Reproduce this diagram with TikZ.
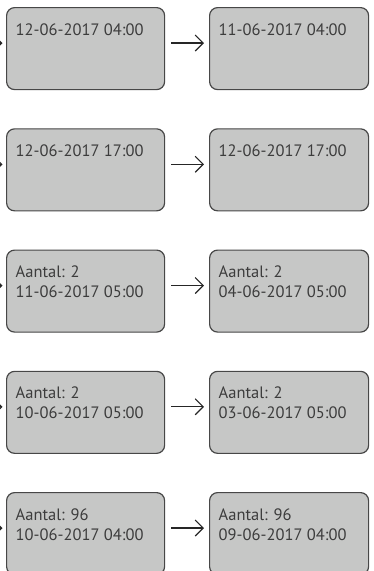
\documentclass[tikz,border=0pt]{standalone}
\usepackage{fontspec}
\setmainfont{PT Sans}
\usetikzlibrary{arrows.meta,calc}
\definecolor{boxfill}{HTML}{C6C7C6}
\definecolor{boxline}{HTML}{474747}
\definecolor{txtcol}{HTML}{3C3C3C}
\begin{document}
\begin{tikzpicture}[x=1pt,y=1pt,
  box/.style={draw=boxline,fill=boxfill,line width=1.2pt,rounded corners=8pt,
    minimum width=158pt,minimum height=82pt,inner sep=0pt,anchor=north west},
  txt/.style={anchor=base west,inner sep=0pt,text=txtcol,font=\fontsize{16.5}{20}\selectfont},
  arr/.style={draw=black!85,line width=1.1pt,-{Straight Barb[length=8pt,width=16pt,line width=1.1pt]}}]
\useasboundingbox (0,0) rectangle (373,-571);
\clip (0,0) rectangle (373,-571);
% rows
\foreach \i/\ya/\yb/\za/\zb in {1/{12-06-2017 04:00}/{}/{11-06-2017 04:00}/{},
  2/{12-06-2017 17:00}/{}/{12-06-2017 17:00}/{},
  3/{Aantal: 2}/{11-06-2017 05:00}/{Aantal: 2}/{04-06-2017 05:00},
  4/{Aantal: 2}/{10-06-2017 05:00}/{Aantal: 2}/{03-06-2017 05:00},
  5/{Aantal: 96}/{10-06-2017 04:00}/{Aantal: 96}/{09-06-2017 04:00}}{
  \pgfmathsetmacro{\top}{-7-121.25*(\i-1)}
  \node[box] (l\i) at (6,\top) {};
  \node[box,minimum width=159pt] (r\i) at (209,\top) {};
  \node[txt] (la\i) at ($(l\i.north west)+(9.5,-28)$) {\ya};
  \node[txt] (lb\i) at ($(l\i.north west)+(9.5,-48)$) {\yb};
  \node[txt] (ra\i) at ($(r\i.north west)+(9.5,-28)$) {\za};
  \node[txt] (rb\i) at ($(r\i.north west)+(9.5,-48)$) {\zb};
  \coordinate (s\i) at (-30,\top-36);
  \draw[arr,shorten >=3.5pt] (s\i) -- (s\i -| l\i.west);
  \draw[arr,shorten <=6pt,shorten >=5pt] (s\i -| l\i.east) -- (s\i -| r\i.west);
}
\end{tikzpicture}
\end{document}
